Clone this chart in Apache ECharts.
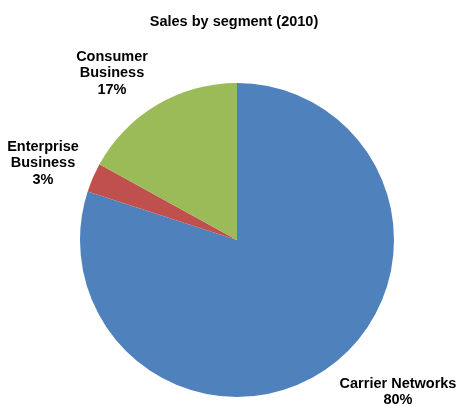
<!DOCTYPE html>
<html>
<head>
<meta charset="utf-8">
<script src="https://cdn.jsdelivr.net/npm/echarts@6/dist/echarts.min.js"></script>
<style>
  html, body { margin: 0; padding: 0; background: #fff; }
  #chart { width: 457px; height: 405px; }
</style>
</head>
<body>
<div id="chart"></div>
<script>
// Segment shares of 2010 sales (percent)
const segments = ['Carrier Networks', 'Enterprise Business', 'Consumer Business'];
const shares = [80, 3, 17];
const labelNames = ['Carrier Networks', 'Enterprise\nBusiness', 'Consumer\nBusiness'];

const colors = ['#4F81BD', '#C0504D', '#9BBB59'];
// Label anchor points (centre of each text block)
const labelAnchors = [[398, 392], [43, 163], [112, 73]];

const chart = echarts.init(document.getElementById('chart'));
chart.setOption({
  animation: false,
  title: {
    text: 'Sales by segment (2010)',
    left: 229,
    top: 9,
    textAlign: 'center',
    textStyle: {
      fontFamily: 'Liberation Sans, Arial, sans-serif',
      fontSize: 14.5,
      fontWeight: 'bold',
      color: '#000'
    }
  },
  series: [{
    type: 'pie',
    center: [237, 240],
    radius: 157,
    startAngle: 90,
    clockwise: true,
    data: segments.map((name, i) => ({
      name: name,
      value: shares[i],
      itemStyle: { color: colors[i] },
      label: { formatter: labelNames[i] + '\n' + shares[i] + '%' }
    })),
    itemStyle: { borderWidth: 0 },
    emphasis: { disabled: true },
    label: {
      show: true,
      position: 'outside',
      overflow: 'none',
      fontFamily: 'Liberation Sans, Arial, sans-serif',
      fontSize: 14.5,
      fontWeight: 'bold',
      color: '#000',
      lineHeight: 16.5,
      align: 'center',
      verticalAlign: 'middle'
    },
    labelLine: { show: false },
    labelLayout: function (params) {
      const p = labelAnchors[params.dataIndex];
      return { x: p[0], y: p[1], align: 'center', verticalAlign: 'middle' };
    }
  }]
});
</script>
</body>
</html>
